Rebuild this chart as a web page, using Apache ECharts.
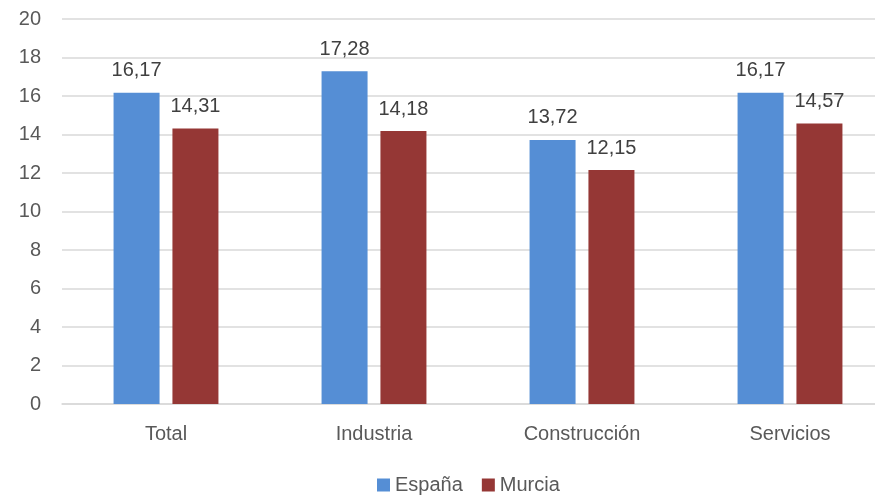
<!DOCTYPE html>
<html><head><meta charset="utf-8">
<script src="https://cdn.jsdelivr.net/npm/echarts@6/dist/echarts.min.js"></script>
<style>html,body{margin:0;padding:0;background:#fff;overflow:hidden}#c{width:894px;height:497px}</style>
</head><body><div id="c"></div>
<script>
const categories = ['Total', 'Industria', 'Construcción', 'Servicios'];
const espana = [16.17, 17.28, 13.72, 16.17];
const murcia = [14.31, 14.18, 12.15, 14.57];
const yTicks = [0, 2, 4, 6, 8, 10, 12, 14, 16, 18, 20];

const FONT = '"Liberation Sans", Arial, sans-serif';
const chart = echarts.init(document.getElementById('c'));
const fmt = p => p.value.toFixed(2).replace('.', ',');
chart.setOption({
  animation: false,
  textStyle: { fontFamily: FONT },
  grid: { left: 62, top: 19, right: 0, bottom: 93 },
  legend: {
    top: 470, left: 372, itemWidth: 13, itemHeight: 13, itemGap: 19,
    icon: 'rect',
    textStyle: { fontFamily: FONT, fontSize: 20, color: '#595959' },
    data: ['España', 'Murcia']
  },
  xAxis: {
    type: 'category', data: categories,
    axisLine: { lineStyle: { color: '#d9d9d9', width: 1.5 } },
    axisTick: { show: false },
    axisLabel: { fontFamily: FONT, fontSize: 20, color: '#595959', margin: 20 }
  },
  yAxis: {
    type: 'value', min: yTicks[0], max: yTicks[yTicks.length - 1], interval: 2,
    axisLine: { show: false }, axisTick: { show: false },
    splitLine: { lineStyle: { color: '#d9d9d9', width: 1.5 } },
    axisLabel: { fontFamily: FONT, fontSize: 20, color: '#595959', margin: 21 }
  },
  series: [
    { name: 'España', type: 'bar', data: espana, barWidth: 46, barGap: '28%',
      itemStyle: { color: '#558ED5' },
      label: { show: true, position: 'top', distance: 12, formatter: fmt,
        fontFamily: FONT, fontSize: 20, color: '#404040' } },
    { name: 'Murcia', type: 'bar', data: murcia, barWidth: 46,
      itemStyle: { color: '#953735' },
      label: { show: true, position: 'top', distance: 12, formatter: fmt,
        fontFamily: FONT, fontSize: 20, color: '#404040' } }
  ]
});
</script></body></html>
